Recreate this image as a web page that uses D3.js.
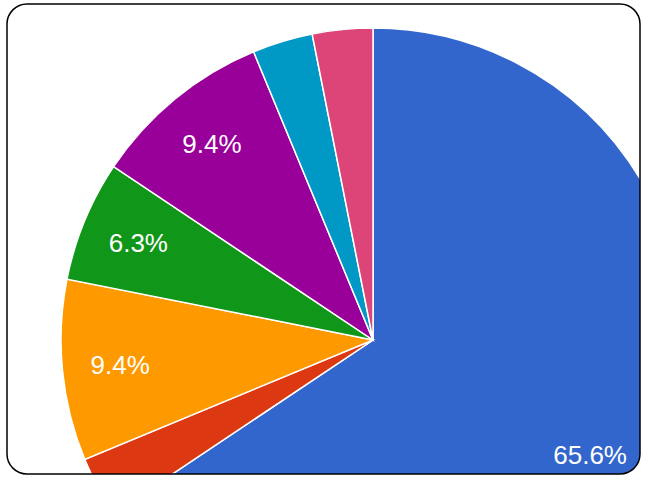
<!DOCTYPE html>
<html>
<head>
<meta charset="utf-8">
<script src="https://cdn.jsdelivr.net/npm/d3@7"></script>
<style>
  body { margin: 0; background: #fff; }
  svg { display: block; }
</style>
</head>
<body>
<svg></svg>
<script>
// Data
const categories = ['A', 'B', 'C', 'D', 'E', 'F', 'G']
const values = [21, 1, 3, 2, 3, 1, 1]
const labels = ['65.6%', '', '9.4%', '6.3%', '9.4%', '', '']
const colors = ['#3366cc', '#dc3912', '#ff9900', '#109618', '#990099', '#0099c6', '#dd4477']

const width = 648
const height = 480
const center = [373, 340]
const radius = 312
// labels are kept inside this area (svg coords)
const labelBounds = { right: 627, bottom: 464 }

const svg = d3.select('svg').attr('width', width).attr('height', height)

// Frame clip
svg
  .append('defs')
  .append('clipPath')
  .attr('id', 'frame-clip')
  .append('rect')
  .attr('x', 7)
  .attr('y', 4)
  .attr('width', 633)
  .attr('height', 470)
  .attr('rx', 20)

const pie = d3.pie().sort(null).value((d) => d.value)
const arc = d3.arc().innerRadius(0).outerRadius(radius)
const labelArc = d3.arc().innerRadius(254).outerRadius(254)

const data = categories.map((c, i) => ({ name: c, value: values[i], label: labels[i], color: colors[i] }))
const arcs = pie(data)

const g = svg
  .append('g')
  .attr('clip-path', 'url(#frame-clip)')
  .append('g')
  .attr('transform', `translate(${center[0]},${center[1]})`)

g.selectAll('.slice')
  .data(arcs)
  .enter()
  .append('path')
  .attr('class', 'slice')
  .attr('d', arc)
  .attr('fill', (d) => d.data.color)
  .attr('stroke', '#fff')
  .attr('stroke-width', 1.5)

g.selectAll('.label')
  .data(arcs.filter((d) => d.data.label))
  .enter()
  .append('text')
  .attr('class', 'label')
  .attr('text-anchor', 'middle')
  .attr('fill', '#fff')
  .style('font-family', 'Arial, "Liberation Sans", sans-serif')
  .style('font-size', '26px')
  .text((d) => d.data.label)
  .each(function (d) {
    let [x, y] = labelArc.centroid(d)
    const el = d3.select(this)
    const w = this.getComputedTextLength()
    // baseline so digits sit centred on the point
    y += 26 * 0.36
    // keep the label inside the visible area
    const maxX = labelBounds.right - center[0] - w / 2
    const maxY = labelBounds.bottom - center[1]
    if (x > maxX) x = maxX
    if (y > maxY) y = maxY
    el.attr('x', x).attr('y', y)
  })

// Frame border
svg
  .append('rect')
  .attr('x', 7)
  .attr('y', 4)
  .attr('width', 633)
  .attr('height', 470)
  .attr('rx', 20)
  .attr('fill', 'none')
  .attr('stroke', '#000')
  .attr('stroke-width', 1.5)
</script>
</body>
</html>
